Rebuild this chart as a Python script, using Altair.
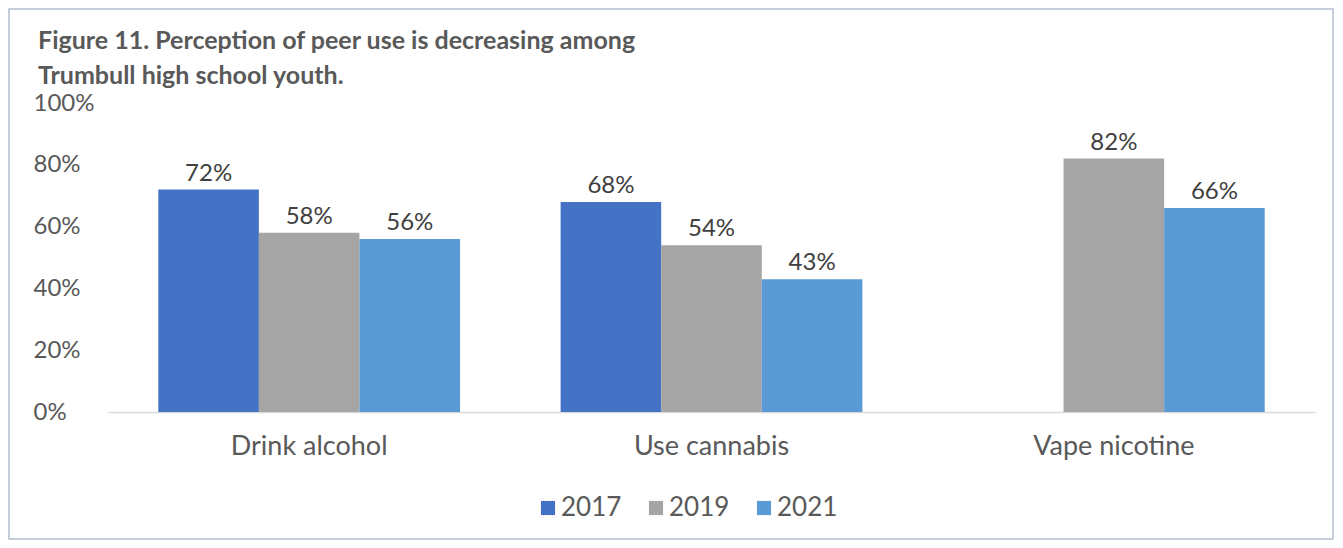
import altair as alt
import pandas as pd

categories = ["Drink alcohol", "Use cannabis", "Vape nicotine"]
years = ["2017", "2019", "2021"]
values_2017 = [72, 68, None]
values_2019 = [58, 54, 82]
values_2021 = [56, 43, 66]
colors = ["#4472C4", "#A5A5A5", "#5B9BD5"]
y_ticks = [0, 0.2, 0.4, 0.6, 0.8, 1.0]
title_lines = ["Figure 11. Perception of peer use is decreasing among",
               "Trumbull high school youth."]

rows = []
for yr, vals in zip(years, [values_2017, values_2019, values_2021]):
    for cat, v in zip(categories, vals):
        if v is not None:
            rows.append({"Category": cat, "Year": yr, "Value": v / 100})
df = pd.DataFrame(rows)

FONT = "Lato"
W, H = 1207, 309

x_enc = alt.X("Category:N", sort=categories, title=None,
              scale=alt.Scale(paddingInner=0.25, paddingOuter=0.125),
              axis=alt.Axis(labelAngle=0, labelFontSize=27, labelColor="#595959",
                            labelFont=FONT, labelPadding=21, ticks=False,
                            domainColor="#D9D9D9", domainWidth=1.5))
y_enc = alt.Y("Value:Q", title=None,
              scale=alt.Scale(domain=[0, 1], nice=False),
              axis=alt.Axis(values=y_ticks, format="%", grid=False, domain=False,
                            ticks=False, labelFontSize=24, labelColor="#595959",
                            labelFont=FONT, labelAlign="left", labelPadding=75))
xoff = alt.XOffset("Year:N", sort=years, scale=alt.Scale(domain=years, paddingInner=0, paddingOuter=0))

bars = alt.Chart(df).mark_bar().encode(
    x=x_enc, y=y_enc, xOffset=xoff,
    color=alt.Color("Year:N", sort=years,
                    scale=alt.Scale(domain=years, range=colors),
                    legend=alt.Legend(title=None, orient="none", legendX=427, legendY=392,
                                      padding=0,
                                      direction="horizontal", columns=3,
                                      symbolType="square", symbolSize=200,
                                      symbolStrokeWidth=0, labelFontSize=26,
                                      labelColor="#595959", labelFont=FONT,
                                      labelOffset=0, columnPadding=21)),
)

labels = alt.Chart(df).mark_text(baseline="bottom", dy=-4, fontSize=24,
                                 color="#404040", font=FONT).encode(
    x=alt.X("Category:N", sort=categories), y="Value:Q", xOffset=xoff,
    text=alt.Text("Value:Q", format=".0%"),
)

title = alt.Chart(pd.DataFrame({"a": [0]})).mark_text(
    align="left", baseline="middle", fontSize=25, fontWeight="bold",
    color="#595959", font=FONT, lineHeight=35).encode(
    x=alt.value(-70), y=alt.value(-62), text=alt.value(title_lines),
)

border = alt.Chart(pd.DataFrame({"a": [0]})).mark_rect(
    fill=None, stroke="#B4BFD0", strokeWidth=1.5).encode(
    x=alt.value(-99), x2=alt.value(W + 18),
    y=alt.value(-94), y2=alt.value(H + 127),
)

chart = alt.layer(border, title, bars, labels).properties(
    width=W, height=H,
    padding={"left": 100, "top": 95, "right": 20, "bottom": 128},
    autosize=alt.AutoSizeParams(type="none"),
).configure_view(stroke=None)

chart.save("out.html", embed_options={"renderer": "svg", "actions": False})
